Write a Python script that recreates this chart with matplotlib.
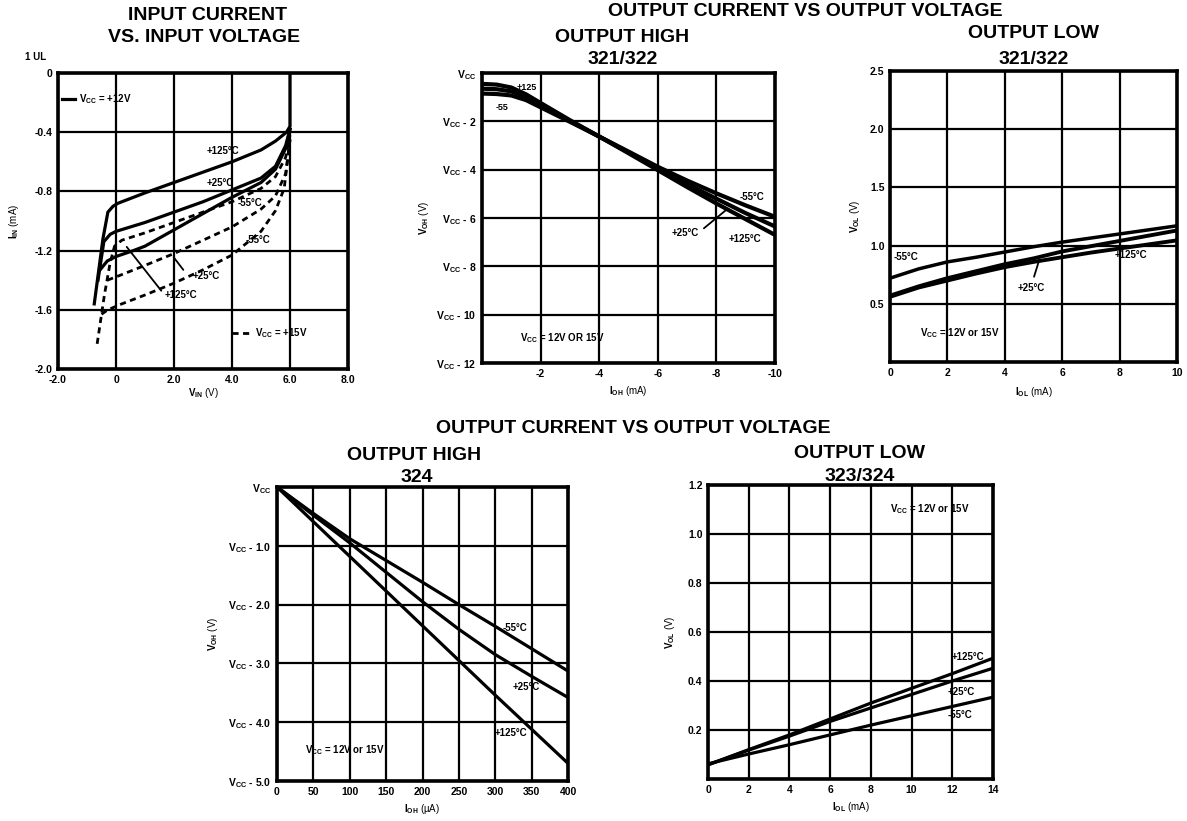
import matplotlib
matplotlib.use("Agg")
import matplotlib.pyplot as plt
from matplotlib.lines import Line2D

plt.rcParams['font.family'] = ['Liberation Sans', 'DejaVu Sans']
plt.rcParams['font.weight'] = 'bold'
plt.rcParams['mathtext.fontset'] = 'custom'
plt.rcParams['mathtext.rm'] = 'Liberation Sans:bold'
plt.rcParams['mathtext.it'] = 'Liberation Sans:bold'
plt.rcParams['mathtext.bf'] = 'Liberation Sans:bold'
plt.rcParams['mathtext.default'] = 'rm'

VCC = r"$V_{CC}$"

# ---- input current vs input voltage (V, mA) ----
in_125_x = [-0.75, -0.45, -0.28, -0.1, 0.07, 1.0, 2.0, 3.0, 4.0, 5.0, 5.5, 5.88, 6.0, 6.0]
in_125_y = [-1.56, -1.12, -0.94, -0.90, -0.88, -0.81, -0.74, -0.67, -0.60, -0.52, -0.46, -0.40, -0.36, 0.0]
in_25_x = [-0.62, -0.42, -0.2, 0.0, 1.0, 2.0, 3.0, 4.0, 5.0, 5.5, 5.85, 6.0]
in_25_y = [-1.40, -1.14, -1.09, -1.07, -1.01, -0.94, -0.87, -0.79, -0.71, -0.63, -0.49, -0.38]
in_m55_x = [-0.55, -0.3, 0.0, 0.3, 0.6, 1.0, 2.0, 3.0, 4.0, 5.0, 5.5, 5.85, 6.0]
in_m55_y = [-1.33, -1.27, -1.24, -1.22, -1.20, -1.17, -1.06, -0.95, -0.84, -0.74, -0.65, -0.51, -0.38]
in15_125_x = [-0.65, -0.4, -0.2, -0.05, 0.2, 1.0, 2.0, 3.0, 4.0, 5.0, 5.5, 5.85, 6.0]
in15_125_y = [-1.83, -1.50, -1.28, -1.17, -1.13, -1.08, -1.01, -0.94, -0.87, -0.78, -0.70, -0.57, -0.42]
in15_25_x = [-0.3, 0.1, 1.0, 2.0, 3.0, 4.0, 5.0, 5.5, 5.85, 6.0]
in15_25_y = [-1.40, -1.37, -1.30, -1.22, -1.13, -1.04, -0.92, -0.83, -0.68, -0.45]
in15_m55_x = [-0.5, -0.28, 0.2, 1.0, 2.0, 3.0, 4.0, 5.0, 5.5, 5.8, 6.0]
in15_m55_y = [-1.63, -1.60, -1.56, -1.50, -1.42, -1.33, -1.23, -1.07, -0.93, -0.78, -0.45]

# ---- output high 321/322 (mA, V below Vcc) ----
oh1_x = [0, -0.5, -1, -1.5, -2, -3, -4, -5, -6, -7, -8, -9, -10]
oh1_m55 = [-0.85, -0.87, -0.93, -1.12, -1.42, -2.02, -2.63, -3.25, -3.88, -4.45, -4.98, -5.48, -5.95]
oh1_25 = [-0.65, -0.67, -0.76, -0.98, -1.32, -1.98, -2.63, -3.28, -3.95, -4.60, -5.20, -5.80, -6.35]
oh1_125 = [-0.45, -0.48, -0.60, -0.88, -1.24, -1.95, -2.63, -3.32, -4.02, -4.72, -5.40, -6.05, -6.70]

# ---- output low 321/322 (mA, V) ----
ol1_x = [0, 1, 2, 3, 4, 5, 6, 7, 8, 9, 10]
ol1_m55 = [0.72, 0.80, 0.86, 0.90, 0.945, 0.99, 1.03, 1.065, 1.10, 1.135, 1.17]
ol1_25 = [0.57, 0.65, 0.72, 0.78, 0.84, 0.89, 0.95, 0.995, 1.04, 1.085, 1.13]
ol1_125 = [0.56, 0.64, 0.70, 0.76, 0.815, 0.86, 0.90, 0.94, 0.975, 1.01, 1.045]

# ---- output high 324 (uA, V below Vcc) ----
oh4_x = [0, 50, 100, 150, 200, 250, 300, 350, 400]
oh4_m55 = [0, -0.45, -0.88, -1.25, -1.62, -2.00, -2.37, -2.75, -3.13]
oh4_25 = [0, -0.48, -0.95, -1.45, -1.95, -2.42, -2.85, -3.22, -3.58]
oh4_125 = [0, -0.59, -1.18, -1.77, -2.36, -2.95, -3.54, -4.12, -4.70]

# ---- output low 323/324 (mA, V) ----
ol4_x = [0, 2, 4, 6, 8, 10, 12, 14]
ol4_125 = [0.058, 0.12, 0.18, 0.245, 0.31, 0.37, 0.43, 0.493]
ol4_25 = [0.058, 0.118, 0.175, 0.235, 0.29, 0.345, 0.40, 0.452]
ol4_m55 = [0.062, 0.102, 0.14, 0.18, 0.22, 0.258, 0.296, 0.334]

W, H = 1187, 821
fig = plt.figure(figsize=(W / 100, H / 100), dpi=100)


def add_ax(l, t, r, b):
    ax = fig.add_axes([l / W, 1 - b / H, (r - l) / W, (b - t) / H])
    for s in ax.spines.values():
        s.set_linewidth(2.6)
    ax.grid(True, color='black', linewidth=1.6)
    ax.tick_params(length=0, labelsize=7.5, pad=4)
    return ax


def lbl(ax, x, y, s, size=7):
    ax.text(x, y, s, fontsize=size, ha='center', va='center', fontweight='bold')


def pointer(ax, x0, y0, x1, y1):
    ax.annotate('', xy=(x1, y1), xytext=(x0, y0),
                arrowprops=dict(arrowstyle='-', color='black', lw=1.3))


def ftext(x, y, s, size=14):
    fig.text(x / W, 1 - y / H, s, fontsize=size, fontweight='bold', ha='center', va='center')


# titles
ftext(208, 16, "INPUT CURRENT")
ftext(204, 38, "VS. INPUT VOLTAGE")
ftext(805, 12, "OUTPUT CURRENT VS OUTPUT VOLTAGE")
ftext(622, 37, "OUTPUT HIGH")
ftext(623, 60, "321/322")
ftext(1033, 33, "OUTPUT LOW")
ftext(1034, 60, "321/322")
ftext(633, 428, "OUTPUT CURRENT VS OUTPUT VOLTAGE")
ftext(414, 455, "OUTPUT HIGH")
ftext(417, 477, "324")
ftext(860, 453, "OUTPUT LOW")
ftext(860, 476, "323/324")
fig.text(36 / W, 1 - 57 / H, "1 UL", fontsize=7, fontweight='bold', ha='center', va='center')

# chart 1
ax = add_ax(58, 73, 348, 369)
lw = 2.3
dash = (0, (2.2, 1.6))
ax.plot(in_125_x, in_125_y, color='k', lw=lw)
ax.plot(in_25_x, in_25_y, color='k', lw=lw)
ax.plot(in_m55_x, in_m55_y, color='k', lw=lw)
ax.plot(in15_125_x, in15_125_y, color='k', lw=2, linestyle=dash)
ax.plot(in15_25_x, in15_25_y, color='k', lw=2, linestyle=dash)
ax.plot(in15_m55_x, in15_m55_y, color='k', lw=2, linestyle=dash)
ax.set_xlim(-2, 8)
ax.set_ylim(-2, 0)
ax.set_xticks([-2, 0, 2, 4, 6, 8])
ax.set_xticklabels(["-2.0", "0", "2.0", "4.0", "6.0", "8.0"])
ax.set_yticks([0, -0.4, -0.8, -1.2, -1.6, -2.0])
ax.set_yticklabels(["0", "-0.4", "-0.8", "-1.2", "-1.6", "-2.0"])
ax.set_xlabel(r"$V_{IN}$ (V)", fontsize=7, labelpad=1)
ax.set_ylabel(r"$I_{IN}$ (mA)", fontsize=7, labelpad=10)
lbl(ax, 3.69, -0.53, "+125°C")
lbl(ax, 3.59, -0.74, "+25°C")
lbl(ax, 4.62, -0.88, "-55°C")
lbl(ax, 4.9, -1.13, "-55°C")
lbl(ax, 3.1, -1.37, "+25°C")
pointer(ax, 2.38, -1.345, 1.93, -1.23)
lbl(ax, 2.25, -1.50, "+125°C")
pointer(ax, 1.62, -1.486, 0.31, -1.16)
leg1 = ax.legend([Line2D([], [], color='k', lw=lw)], [VCC + " = +12V"], loc='upper left',
                 bbox_to_anchor=(0.015, 0.935), frameon=False, fontsize=7, handlelength=1.3,
                 handletextpad=0.4, borderpad=0, borderaxespad=0)
ax.add_artist(leg1)
ax.legend([Line2D([], [], color='k', lw=2, linestyle=dash)], [VCC + " = +15V"], loc='center left',
          bbox_to_anchor=(0.6, 0.12), frameon=False, fontsize=7, handlelength=2.0,
          handletextpad=0.4, borderpad=0, borderaxespad=0)

# chart 2
ax = add_ax(482, 73, 775, 363)
ax.plot(oh1_x, oh1_m55, color='k', lw=3)
ax.plot(oh1_x, oh1_25, color='k', lw=3)
ax.plot(oh1_x, oh1_125, color='k', lw=3)
ax.set_xlim(0, -10)
ax.set_ylim(-12, 0)
ax.set_xticks([0, -2, -4, -6, -8, -10])
ax.set_xticklabels(["", "-2", "-4", "-6", "-8", "-10"])
ax.set_yticks([0, -2, -4, -6, -8, -10, -12])
ax.set_yticklabels([VCC] + [VCC + " - %d" % v for v in (2, 4, 6, 8, 10, 12)])
ax.set_xlabel(r"$I_{OH}$ (mA)", fontsize=7, labelpad=4)
ax.set_ylabel(r"$V_{OH}$ (V)", fontsize=7, labelpad=4)
lbl(ax, -1.54, -0.58, "+125", 6.5)
lbl(ax, -0.68, -1.41, "-55", 6.5)
lbl(ax, -9.2, -5.13, "-55°C")
lbl(ax, -6.93, -6.6, "+25°C")
pointer(ax, -7.5, -6.5, -8.4, -5.6)
lbl(ax, -8.98, -6.85, "+125°C")
lbl(ax, -2.73, -10.97, VCC + " = 12V OR 15V")

# chart 3
ax = add_ax(890, 71, 1177, 362)
ax.plot(ol1_x, ol1_m55, color='k', lw=2.5)
ax.plot(ol1_x, ol1_25, color='k', lw=2.8)
ax.plot(ol1_x, ol1_125, color='k', lw=2.8)
ax.set_xlim(0, 10)
ax.set_ylim(0, 2.5)
ax.set_xticks([0, 2, 4, 6, 8, 10])
ax.set_yticks([0, 0.5, 1.0, 1.5, 2.0, 2.5])
ax.set_yticklabels(["", "0.5", "1.0", "1.5", "2.0", "2.5"])
ax.set_xlabel(r"$I_{OL}$ (mA)", fontsize=7, labelpad=5)
ax.set_ylabel(r"$V_{OL}$ (V)", fontsize=7, labelpad=6)
lbl(ax, 0.55, 0.90, "-55°C")
lbl(ax, 4.92, 0.64, "+25°C")
pointer(ax, 4.99, 0.71, 5.23, 0.90)
lbl(ax, 8.4, 0.92, "+125°C")
lbl(ax, 2.44, 0.25, VCC + " = 12V or 15V")

# chart 4
ax = add_ax(277, 487, 568, 781)
ax.plot(oh4_x, oh4_m55, color='k', lw=2.3)
ax.plot(oh4_x, oh4_25, color='k', lw=2.3)
ax.plot(oh4_x, oh4_125, color='k', lw=2.3)
ax.set_xlim(0, 400)
ax.set_ylim(-5, 0)
ax.set_xticks(list(range(0, 401, 50)))
ax.set_yticks([0, -1, -2, -3, -4, -5])
ax.set_yticklabels([VCC] + [VCC + " - %.1f" % v for v in (1, 2, 3, 4, 5)])
ax.set_xlabel(r"$I_{OH}$ (µA)", fontsize=7, labelpad=4)
ax.set_ylabel(r"$V_{OH}$ (V)", fontsize=7, labelpad=6)
lbl(ax, 327, -2.40, "-55°C")
lbl(ax, 343, -3.40, "+25°C")
lbl(ax, 322, -4.18, "+125°C")
lbl(ax, 93, -4.47, VCC + " = 12V or 15V")

# chart 5
ax = add_ax(708, 485, 993, 779)
ax.plot(ol4_x, ol4_125, color='k', lw=2.3)
ax.plot(ol4_x, ol4_25, color='k', lw=2.3)
ax.plot(ol4_x, ol4_m55, color='k', lw=2.3)
ax.set_xlim(0, 14)
ax.set_ylim(0, 1.2)
ax.set_xticks(list(range(0, 15, 2)))
ax.set_yticks([0, 0.2, 0.4, 0.6, 0.8, 1.0, 1.2])
ax.set_yticklabels(["", "0.2", "0.4", "0.6", "0.8", "1.0", "1.2"])
ax.set_xlabel(r"$I_{OL}$ (mA)", fontsize=7, labelpad=4)
ax.set_ylabel(r"$V_{OL}$ (V)", fontsize=7, labelpad=8)
lbl(ax, 12.75, 0.50, "+125°C")
lbl(ax, 12.46, 0.356, "+25°C")
lbl(ax, 12.4, 0.262, "-55°C")
lbl(ax, 10.9, 1.10, VCC + " = 12V or 15V")

fig.savefig("out.png", dpi=100)
